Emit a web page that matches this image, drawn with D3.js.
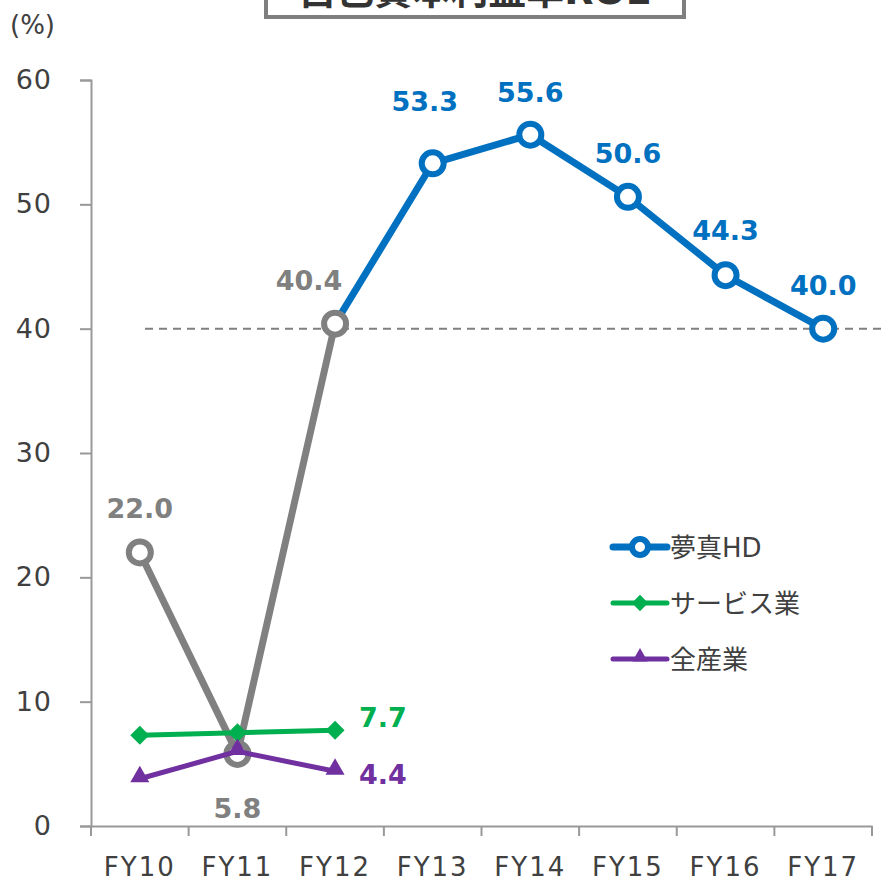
<!DOCTYPE html>
<html>
<head>
    <meta charset="utf-8">
    <title>ROE</title>
</head>
<body style="margin:0">
<script src="https://d3js.org/d3.v7.min.js"></script>
<script>
    // chart values
    const categories = ['FY10', 'FY11', 'FY12', 'FY13', 'FY14', 'FY15', 'FY16', 'FY17'];
    const hdValues = [22.0, 5.8, 40.4, 53.3, 55.6, 50.6, 44.3, 40.0];
    const serviceValues = [7.3, 7.5, 7.7];
    const allIndustryValues = [3.8, 6.0, 4.4];
    const yTicks = [0, 10, 20, 30, 40, 50, 60];
    const legendNames = ['夢真HD', 'サービス業', '全産業'];
    const refLine = 40;

    const W = 881, H = 883;
    const FONT = '"DejaVu Sans", "Noto Sans CJK JP", sans-serif';
    const COLORS = {hd: '#0070C0', gray: '#808080', service: '#00B050', all: '#7030A0', text: '#404040'};

    const svg = d3.select('body').append('svg')
        .attr('width', W).attr('height', H)
        .style('font-family', FONT);

    const x = d3.scaleBand().domain(categories).range([91, 872]);
    const y = d3.scaleLinear().domain([0, 60]).range([826, 80]);
    const cx = c => x(c) + x.bandwidth() / 2;

    // title box (cut off at top, as in the original)
    svg.append('rect')
        .attr('x', 266).attr('y', -40).attr('width', 418).attr('height', 57)
        .attr('fill', '#fff').attr('stroke', '#7f7f7f').attr('stroke-width', 4);
    svg.append('text')
        .attr('x', 475).attr('y', 4)
        .attr('text-anchor', 'middle')
        .attr('font-size', 38).attr('font-weight', 'bold')
        .attr('fill', '#333')
        .text('自己資本利益率ROE');

    // y axis
    const yAxis = svg.append('g')
        .attr('transform', 'translate(91,0)')
        .call(d3.axisLeft(y).tickValues(yTicks).tickSize(11).tickPadding(28));
    yAxis.select('.domain').attr('stroke', '#999').attr('stroke-width', 2);
    yAxis.selectAll('.tick line').attr('stroke', '#999').attr('stroke-width', 2);
    yAxis.selectAll('.tick text')
        .attr('font-size', 27).attr('fill', COLORS.text).attr('font-family', FONT)
        .attr('letter-spacing', 1);

    svg.append('text')
        .attr('x', 10).attr('y', 34)
        .attr('font-size', 26).attr('fill', COLORS.text)
        .text('(%)');

    // x axis
    const xAxis = svg.append('g')
        .attr('transform', `translate(0,${y(0)})`)
        .call(d3.axisBottom(x).tickSize(0).tickPadding(32));
    xAxis.select('.domain').attr('stroke', '#999').attr('stroke-width', 2);
    xAxis.selectAll('.tick text')
        .attr('font-size', 26).attr('fill', COLORS.text).attr('font-family', FONT)
        .attr('letter-spacing', 2);
    // boundary ticks
    const bounds = categories.map(c => x(c)).concat([x.range()[1]]);
    xAxis.selectAll('.bound')
        .data(bounds)
        .enter().append('line')
        .attr('x1', d => d).attr('x2', d => d)
        .attr('y1', 0).attr('y2', 10)
        .attr('stroke', '#999').attr('stroke-width', 2);

    // dashed reference
    svg.append('line')
        .attr('x1', 145).attr('x2', W)
        .attr('y1', y(refLine)).attr('y2', y(refLine))
        .attr('stroke', '#7f7f7f').attr('stroke-width', 2)
        .attr('stroke-dasharray', '8,6');

    const line = d3.line().x(d => cx(d.c)).y(d => y(d.v));
    const toPts = vals => vals.map((v, i) => ({c: categories[i], v}));

    const hdPts = toPts(hdValues);
    const grayPts = hdPts.slice(0, 3);
    const bluePts = hdPts.slice(2);
    const servicePts = toPts(serviceValues);
    const allPts = toPts(allIndustryValues);

    // HD gray part and blue part
    svg.append('path').attr('d', line(grayPts))
        .attr('fill', 'none').attr('stroke', COLORS.gray).attr('stroke-width', 7)
        .attr('stroke-linejoin', 'round');
    svg.append('path').attr('d', line(bluePts))
        .attr('fill', 'none').attr('stroke', COLORS.hd).attr('stroke-width', 7)
        .attr('stroke-linejoin', 'round');

    svg.selectAll('.hdMark')
        .data(hdPts)
        .enter().append('circle')
        .attr('cx', d => cx(d.c)).attr('cy', d => y(d.v)).attr('r', 11)
        .attr('fill', '#fff')
        .attr('stroke', (d, i) => i < 3 ? COLORS.gray : COLORS.hd)
        .attr('stroke-width', 6);

    // service
    svg.append('path').attr('d', line(servicePts))
        .attr('fill', 'none').attr('stroke', COLORS.service).attr('stroke-width', 5);
    svg.selectAll('.svcMark')
        .data(servicePts)
        .enter().append('path')
        .attr('transform', d => `translate(${cx(d.c)},${y(d.v)})`)
        .attr('d', d3.symbol(d3.symbolDiamond2, 230)())
        .attr('fill', COLORS.service);

    // all industries
    svg.append('path').attr('d', line(allPts))
        .attr('fill', 'none').attr('stroke', COLORS.all).attr('stroke-width', 5);
    svg.selectAll('.allMark')
        .data(allPts)
        .enter().append('path')
        .attr('transform', d => `translate(${cx(d.c)},${y(d.v) - 2})`)
        .attr('d', d3.symbol(d3.symbolTriangle2, 260)())
        .attr('fill', COLORS.all);

    // data labels
    const labelOffsets = [[0, -34], [0, 64], [-26, -34], [-8, -52], [0, -33], [0, -34], [0, -35], [0, -34]];
    svg.selectAll('.hdLabel')
        .data(hdPts)
        .enter().append('text')
        .attr('x', (d, i) => cx(d.c) + labelOffsets[i][0])
        .attr('y', (d, i) => y(d.v) + labelOffsets[i][1])
        .attr('text-anchor', 'middle')
        .attr('font-size', 27).attr('font-weight', 'bold')
        .attr('fill', (d, i) => i < 3 ? COLORS.gray : COLORS.hd)
        .text(d => d.v.toFixed(1));

    const lastSvc = servicePts[servicePts.length - 1];
    svg.append('text')
        .attr('x', cx(lastSvc.c) + 24).attr('y', y(lastSvc.v) - 3)
        .attr('font-size', 27).attr('font-weight', 'bold').attr('fill', COLORS.service)
        .text(lastSvc.v.toFixed(1));
    const lastAll = allPts[allPts.length - 1];
    svg.append('text')
        .attr('x', cx(lastAll.c) + 24).attr('y', y(lastAll.v) + 13)
        .attr('font-size', 27).attr('font-weight', 'bold').attr('fill', COLORS.all)
        .text(lastAll.v.toFixed(1));

    // legend
    const legendColors = [COLORS.hd, COLORS.service, COLORS.all];
    const lg = svg.append('g').attr('transform', 'translate(613,547)');
    legendNames.forEach((name, i) => {
        const row = lg.append('g').attr('transform', `translate(0,${i * 56})`);
        row.append('line').attr('x1', 0).attr('x2', 54).attr('y1', 0).attr('y2', 0)
            .attr('stroke', legendColors[i]).attr('stroke-width', i === 0 ? 7 : 5)
            .attr('stroke-linecap', 'round');
        if (i === 0) {
            row.append('circle').attr('cx', 27).attr('cy', 0).attr('r', 8)
                .attr('fill', '#fff').attr('stroke', legendColors[i]).attr('stroke-width', 6);
        } else {
            row.append('path').attr('transform', `translate(27,${i === 2 ? -2 : 0})`)
                .attr('d', d3.symbol(i === 1 ? d3.symbolDiamond2 : d3.symbolTriangle2, 170)())
                .attr('fill', legendColors[i]);
        }
        row.append('text').attr('x', 57).attr('y', 10)
            .attr('font-size', 26).attr('fill', COLORS.text)
            .text(name);
    });
</script>
</body>
</html>
